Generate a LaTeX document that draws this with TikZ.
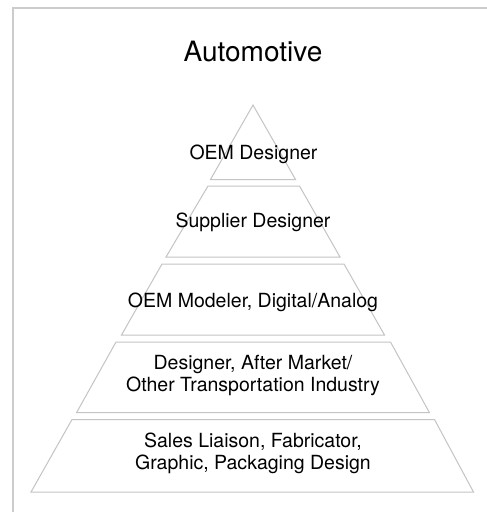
\documentclass[tikz,border=0pt]{standalone}
\usepackage{fontspec}
\setmainfont{TeX Gyre Heros}
\definecolor{framegray}{HTML}{CCCCCC}
\definecolor{tiergray}{HTML}{C4C4C4}
\begin{document}
\begin{tikzpicture}[x=1pt,y=-1pt,
  tier/.style={draw=tiergray,line width=1pt,line join=miter},
  lbl/.style={anchor=base,inner sep=0pt,font=\fontsize{19.5}{21.8}\selectfont,align=center},
  ttl/.style={anchor=base,inner sep=0pt,font=\fontsize{28}{32}\selectfont}]
\useasboundingbox (0,0) rectangle (487,512);
\fill[white] (0,0) rectangle (487,512);
% frame (open at right and bottom, as cut by the picture edges)
\draw[framegray,line width=2pt] (13,512) -- (13,8) -- (487,8);
% title
\node[ttl] (title) at (253,61.7) {Automotive};
% tiers
\draw[tier] (253,105) -- (295.5,179.5) -- (210.5,179.5) -- cycle;
\draw[tier] (208,186) -- (299.5,186) -- (340,257) -- (166,257) -- cycle;
\draw[tier] (162,264) -- (344,264) -- (384.5,335) -- (121.5,335) -- cycle;
\draw[tier] (116,342) -- (390.5,342) -- (429.5,412.7) -- (76.5,412.7) -- cycle;
\draw[tier] (72,419.5) -- (434.5,419.5) -- (473.5,492) -- (31,492) -- cycle;
% labels (base anchor of a two-line label is the baseline of its last line)
\node[lbl] (t1) at (253.5,159) {OEM Designer};
\node[lbl] (t2) at (253,227.3) {Supplier Designer};
\node[lbl] (t3) at (253,307.3) {OEM Modeler, Digital/Analog};
\node[lbl] (t4) at (253,391.5) {Designer, After Market/\\Other Transportation Industry};
\node[lbl] (t5) at (253,469.5) {Sales Liaison, Fabricator,\\Graphic, Packaging Design};
\end{tikzpicture}
\end{document}
